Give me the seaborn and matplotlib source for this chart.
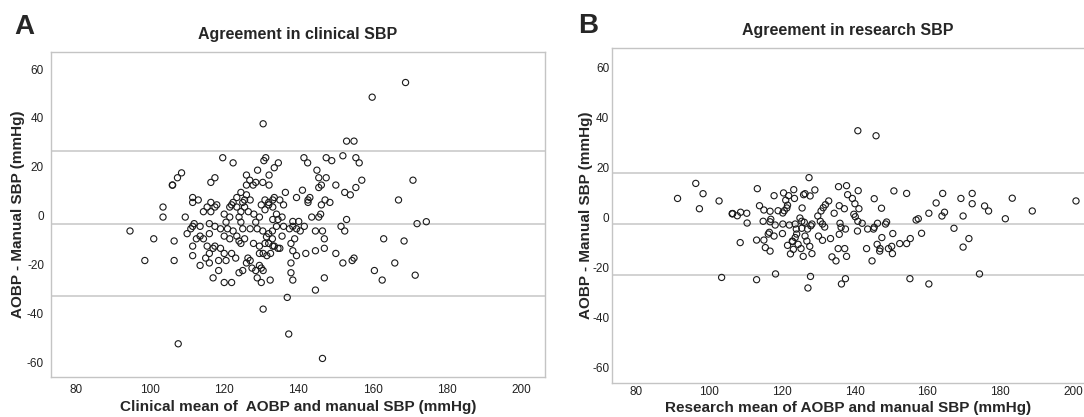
import numpy as np
import matplotlib
matplotlib.use("Agg")
import matplotlib.pyplot as plt
import seaborn as sns

# Panel A: clinical SBP (mean of AOBP and manual, difference AOBP - manual)
clin_mean = [119.6, 122.4, 131.2, 130.7, 134.6, 133.5, 129.0, 132.1, 126.0, 126.9,
             128.5, 127.8, 130.4, 132.1, 126.0, 116.4, 117.5, 107.4, 108.5, 106.1,
             141.5, 142.5, 147.5, 149.0, 152.0, 155.5, 156.4, 145.0, 145.5, 147.5,
             146.2, 145.5, 150.1, 157.1, 155.5, 152.5, 154.0, 141.1, 136.5, 139.5,
             143.1, 142.6, 142.6, 146.2, 147.2, 148.5, 167.0, 124.5, 126.0, 123.4,
             125.5, 127.0, 125.0, 111.5, 113.0, 111.5, 103.5, 103.5, 109.5, 116.4,
             118.0, 115.4, 114.4, 116.4, 117.5, 120.0, 121.5, 122.4, 122.0, 123.4,
             124.5, 125.5, 126.5, 128.0, 129.5, 128.5, 131.0, 131.0, 130.0, 132.0,
             133.1, 133.5, 135.0, 136.0, 133.1, 134.1, 133.1, 134.5, 135.6, 136.0,
             132.0, 124.5, 124.0, 121.5, 120.5, 117.5, 116.0, 111.9, 111.0, 111.5,
             113.5, 110.0, 94.6, 101.0, 106.5, 98.6, 106.5, 112.5, 113.5, 116.0,
             114.4, 119.0, 120.9, 122.4, 120.0, 121.5, 123.4, 125.0, 127.0, 128.9,
             130.4, 132.0, 133.0, 134.1, 131.4, 133.0, 135.6, 137.6, 138.5, 139.5,
             140.5, 138.5, 140.1, 141.6, 143.6, 145.5, 146.0, 153.0, 151.5, 152.5,
             144.6, 146.5, 147.0, 139.0, 138.0, 125.5, 124.5, 124.0, 127.9, 129.5,
             131.0, 132.0, 133.1, 134.5, 135.0, 133.5, 111.5, 115.4, 117.5, 117.0,
             119.0, 120.0, 122.0, 123.1, 116.0, 115.0, 116.0, 111.5, 113.5, 118.5,
             120.5, 126.4, 127.0, 126.0, 129.5, 130.5, 131.5, 132.5, 138.5, 139.5,
             142.0, 144.6, 147.0, 150.1, 155.0, 154.5, 152.0, 163.0, 168.5, 166.0,
             160.5, 162.6, 147.0, 144.6, 138.0, 138.0, 138.5, 137.0, 130.5, 132.4,
             130.0, 128.9, 128.5, 129.5, 130.0, 130.5, 124.0, 125.0, 118.5, 117.0,
             120.0, 122.0, 127.5, 106.0,
             130.5, 168.9, 159.9, 153.0, 155.0, 170.9, 172.0, 174.5, 171.5, 107.6,
             137.4, 146.5]
clin_diff = [23.7, 21.6, 23.7, 22.5, 21.6, 19.6, 18.6, 16.6, 16.6, 14.5,
             13.6, 12.5, 13.6, 12.5, 12.5, 13.6, 15.5, 15.5, 17.5, 12.5,
             23.7, 21.6, 23.7, 22.5, 24.5, 23.7, 21.6, 18.6, 15.5, 15.5,
             12.5, 11.5, 12.5, 14.5, 11.5, 9.5, 8.5, 10.4, 9.5, 7.4,
             7.4, 6.4, 5.4, 4.4, 6.4, 5.4, 6.4, 9.5, 8.5, 7.4,
             6.4, 6.4, 5.4, 7.4, 6.4, 5.4, 3.5, -0.6, -0.6, 5.4,
             4.4, 3.5, 1.6, 1.6, 3.5, 0.6, 3.5, 5.4, 4.4, 3.5,
             1.6, 3.5, 1.6, 0.6, -0.6, -2.7, 6.4, 2.4, 4.4, 5.4,
             6.4, 7.4, 6.4, 4.4, 3.5, 0.6, -1.6, -1.6, -0.6, -4.4,
             4.4, -2.7, -0.6, -0.6, -2.7, -4.4, -3.3, -3.3, -5.4, -4.4,
             -4.4, -7.4, -6.3, -9.5, -10.4, -18.4, -18.4, -9.5, -8.4, -7.4,
             -9.5, -5.4, -5.4, -6.3, -8.4, -9.5, -8.4, -5.4, -5.4, -5.4,
             -6.3, -7.4, -6.3, -4.4, -8.7, -9.5, -8.4, -5.4, -4.4, -5.4,
             -6.3, -2.4, -2.4, -4.4, -0.6, -0.6, 0.6, -1.6, -4.4, -6.3,
             -6.3, -6.3, -9.5, -9.5, -11.4, -9.5, -11.4, -10.4, -11.4, -12.5,
             -11.4, -11.4, -12.5, -13.4, -13.4, -12.5, -12.5, -12.5, -12.5, -13.4,
             -13.4, -15.5, -15.5, -17.4, -15.5, -17.4, -19.4, -16.4, -20.4, -18.4,
             -18.4, -17.4, -18.4, -19.4, -15.5, -15.5, -16.4, -15.5, -14.4, -16.4,
             -15.5, -14.4, -13.4, -15.5, -17.4, -18.4, -19.4, -9.5, -10.4, -19.4,
             -22.5, -26.4, -25.5, -30.5, -19.4, -23.4, -26.4, -33.5, -38.3, -26.4,
             -27.4, -25.5, -22.5, -20.4, -21.5, -22.5, -23.4, -22.5, -22.5, -25.5,
             -27.4, -27.4, -21.5, 12.5,
             37.6, 54.5, 48.5, 30.5, 30.5, 14.5, -3.3, -2.5, -24.4, -52.5,
             -48.5, -58.5]
clin_lines = [26.3, -3.3, -32.9]   # upper LoA, mean bias, lower LoA

# Panel B: research SBP
res_mean = [91.4, 96.4, 98.4, 97.4, 102.8, 106.4, 106.5, 106.5, 107.8, 108.7,
            110.4, 110.5, 108.6, 103.5, 113.1, 118.3, 113.3, 113.9, 115.1, 116.8,
            119.0, 117.9, 120.5, 121.9, 121.1, 123.3, 123.5, 121.6, 121.4, 120.7,
            120.3, 125.6, 126.0, 126.4, 127.8, 129.1, 127.5, 114.9, 117.0, 116.8,
            118.2, 120.3, 122.1, 123.7, 124.0, 125.0, 125.5, 126.2, 127.1, 128.0,
            128.3, 129.9, 130.8, 131.4, 132.0, 132.9, 134.4, 135.8, 137.2, 135.6,
            137.8, 138.1, 139.4, 140.1, 141.2, 141.0, 139.8, 140.2, 140.9, 142.1,
            143.6, 145.2, 145.4, 146.3, 148.5, 148.8, 147.4, 145.4, 150.8, 154.3,
            136.0, 136.3, 137.5, 135.8, 140.8, 130.6, 131.2, 131.8, 130.1, 131.2,
            133.4, 126.4, 124.1, 123.7, 122.9, 121.6, 123.2, 122.4, 124.5, 125.3,
            125.9, 126.9, 127.7, 128.3, 125.5, 120.2, 117.9, 116.6, 116.3, 115.1,
            113.1, 115.5, 116.8, 135.5, 137.3, 137.8, 133.8, 134.9, 144.8, 143.3,
            146.2, 147.0, 146.9, 147.5, 149.3, 150.2, 150.5, 150.4, 152.4, 154.3,
            155.3, 158.4, 156.9, 157.5, 160.4, 162.4, 164.2, 164.7, 164.0, 167.3,
            169.2, 169.8, 172.3, 172.3, 175.7, 176.8, 169.8, 171.4, 174.3, 155.2,
            160.4, 136.4, 137.5, 127.2, 127.9, 123.0,
            140.9, 145.9, 183.3, 188.8, 200.8, 181.4]
res_diff = [7.6, 13.6, 9.5, 3.5, 6.6, 1.5, 1.5, 1.6, 0.7, 2.1,
            1.7, -2.2, -10.0, -23.9, -24.8, -22.5, 11.5, 4.7, 3.0, 2.5,
            2.7, 8.7, 9.8, 8.7, 6.9, 11.1, 7.6, 4.9, 3.8, 2.7,
            1.8, 3.8, 9.1, 9.5, 8.6, 11.0, 15.9, -1.5, -0.7, -1.7,
            -3.0, -2.6, -3.0, -2.6, -4.6, -0.2, -1.5, -1.9, -4.6, -3.3,
            -2.6, 0.6, 2.6, 3.9, 5.1, 6.6, 1.7, 4.7, 3.5, 12.3,
            12.7, 9.1, 7.6, 5.5, 3.5, 10.7, 1.3, 0.3, -1.5, -2.3,
            -4.6, -4.6, -3.9, -2.3, -2.6, -1.8, 3.7, 7.5, 10.6, 9.6,
            -2.3, -3.9, -4.6, -6.7, -5.4, -1.5, -2.6, -3.8, -7.4, -9.1,
            -8.4, -7.4, -6.6, -8.0, -9.4, -11.1, -12.7, -14.5, -10.7, -12.4,
            -15.5, -9.4, -11.5, -14.4, -4.3, -6.4, -7.4, -5.9, -6.6, -9.0,
            -9.0, -12.0, -13.4, -12.4, -12.4, -15.5, -15.7, -17.3, -17.3, -12.4,
            -10.7, -12.4, -13.4, -8.0, -12.4, -11.5, -6.4, -14.4, -10.4, -10.4,
            -8.4, -6.3, -1.0, -0.5, 1.7, 5.8, 9.6, 2.1, 0.6, -4.3,
            7.6, 0.6, 9.6, 5.5, 4.6, 2.6, -11.8, -8.4, -22.5, -24.4,
            -26.5, -26.5, -24.4, -28.1, -23.5, -9.6,
            34.6, 32.6, 7.7, 2.6, 6.6, -0.5]
res_lines = [17.6, -2.6, -22.9]

sns.set_style("white")
plt.rcParams['font.family'] = ['Liberation Sans', 'DejaVu Sans']
plt.rcParams['axes.unicode_minus'] = False

fig = plt.figure(figsize=(10.84, 4.17), dpi=100)
axA = fig.add_axes([51 / 1084, 40 / 417, 494 / 1084, 325 / 417])
axB = fig.add_axes([612 / 1084, 34 / 417, 472 / 1084, 335 / 417])

spine_col = '#c4c4c4'


def draw(ax, x, y, lines, xlim, ylim, title, xlabel, tick_len, tick_pad, xlabelpad):
    for v in lines:
        ax.axhline(v, color='#cfcfcf', lw=1.3, zorder=1)
    sns.scatterplot(x=x, y=y, ax=ax, marker='o', s=20, facecolor='none',
                    edgecolor='#1a1a1a', linewidth=0.8, zorder=3)
    ax.set_xlim(*xlim)
    ax.set_ylim(*ylim)
    ax.set_xticks([80, 100, 120, 140, 160, 180, 200])
    ax.set_yticks([-60, -40, -20, 0, 20, 40, 60])
    ax.tick_params(axis='both', labelsize=8.5, length=tick_len, width=0.8,
                   color=spine_col, labelcolor='#222222', pad=tick_pad,
                   direction='out')
    for s in ax.spines.values():
        s.set_color(spine_col)
        s.set_linewidth(1.0)
    ax.set_title(title, fontsize=11.5, fontweight='bold', pad=9)
    ax.set_xlabel(xlabel, fontsize=11, fontweight='bold', labelpad=xlabelpad)
    ax.set_ylabel('AOBP - Manual SBP (mmHg)', fontsize=11, fontweight='bold')


draw(axA, clin_mean, clin_diff, clin_lines, (73.3, 206.5), (-66.1, 67.0),
     'Agreement in clinical SBP', 'Clinical mean of  AOBP and manual SBP (mmHg)',
     3, 2, 3)
draw(axB, res_mean, res_diff, res_lines, (73.4, 203.0), (-66.0, 67.6),
     'Agreement in research SBP', 'Research mean of AOBP and manual SBP (mmHg)',
     1, 1, 2)
axB.spines['right'].set_visible(False)
axA.yaxis.set_label_coords(-0.053, 0.5)
axB.yaxis.set_label_coords(-0.040, 0.5)

fig.text(14 / 1084, 1 - 27 / 417, 'A', fontsize=20, fontweight='bold', va='center')
fig.text(578 / 1084, 1 - 26 / 417, 'B', fontsize=20, fontweight='bold', va='center')

fig.savefig('out.png', dpi=100)
